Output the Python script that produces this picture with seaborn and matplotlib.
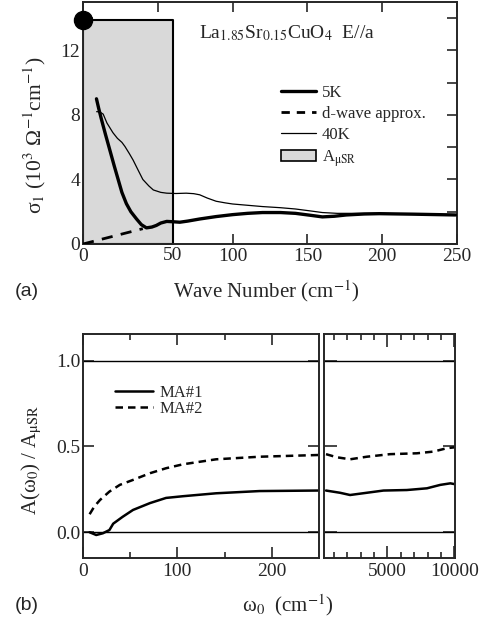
import numpy as np
import pandas as pd
import matplotlib
matplotlib.use("Agg")
import matplotlib.pyplot as plt
import matplotlib.transforms as mtrans
from matplotlib.lines import Line2D
from matplotlib.patches import Patch
import seaborn as sns

# ---------------- data (a) ----------------
wn_5k = [9, 10.5, 12.4, 15, 18, 21, 23.5, 26, 29, 32, 35.8, 39, 42.4, 46, 49, 52, 56, 60, 64.7, 70, 78, 89,
         100, 110, 120, 132, 142, 152, 160, 168, 176, 188, 198, 220, 249]
s1_5k = [9.0, 8.4, 7.7, 6.8, 5.8, 4.8, 4.0, 3.2, 2.5, 2.0, 1.55, 1.2, 1.0, 1.05, 1.15, 1.3, 1.4, 1.38, 1.35, 1.42, 1.55, 1.7,
         1.82, 1.9, 1.95, 1.95, 1.9, 1.78, 1.68, 1.72, 1.8, 1.86, 1.88, 1.85, 1.8]

wn_40k = [9.1, 11, 13.5, 16, 20, 23, 26, 28, 31, 33.5, 37, 40, 44, 47, 52, 56, 62, 69, 74, 78, 83, 89, 95,
          100, 110, 120, 132, 142, 152, 160, 170, 182, 198, 249]
s1_40k = [8.2, 8.2, 8.05, 7.5, 6.9, 6.55, 6.3, 6.05, 5.6, 5.2, 4.55, 4.0, 3.6, 3.35, 3.2, 3.15, 3.13, 3.15, 3.12, 3.05, 2.85, 2.65, 2.55,
          2.48, 2.4, 2.32, 2.25, 2.17, 2.05, 1.95, 1.9, 1.9, 1.9, 1.8]

wn_dwave = [0, 40]
s1_dwave = [0, 0.95]

box_x = [0, 60]          # A_muSR region
box_top = 13.9
dot_x, dot_y = [0], [13.9]

xticks_a = [0, 50, 100, 150, 200, 250]
xticklabels_a = ['0', '', '100', '150', '200', '250']
yticks_a = [0, 4, 8, 12]

# ---------------- data (b) ----------------
w_low1 = [7, 14, 21, 28, 32, 42, 53, 71, 88, 106, 141, 187, 249]
ma1_low = [0.0, -0.016, -0.006, 0.013, 0.05, 0.09, 0.13, 0.17, 0.2, 0.21, 0.227, 0.24, 0.243]
w_low2 = [7, 12, 18, 28, 39, 53, 71, 88, 106, 141, 187, 249]
ma2_low = [0.105, 0.15, 0.188, 0.237, 0.276, 0.305, 0.344, 0.373, 0.396, 0.425, 0.44, 0.45]

w_high1 = [400, 1450, 2200, 3450, 4700, 6450, 7950, 8950, 9700, 10050]
ma1_high = [0.243, 0.23, 0.217, 0.23, 0.243, 0.246, 0.256, 0.276, 0.285, 0.28]
w_high2 = [400, 1200, 2200, 3450, 5200, 7200, 8450, 9450, 10050]
ma2_high = [0.455, 0.437, 0.425, 0.44, 0.455, 0.46, 0.47, 0.49, 0.495]

# ---------------- style ----------------
sns.set_style("ticks")
plt.rcParams['font.family'] = ['Liberation Serif', 'DejaVu Serif']
plt.rcParams['mathtext.fontset'] = 'stix'
plt.rcParams['axes.linewidth'] = 1.4
plt.rcParams['xtick.direction'] = 'in'
plt.rcParams['ytick.direction'] = 'in'

TICK_FS = 14
fig = plt.figure(figsize=(4.85, 6.24), dpi=100)

# ================= panel (a) =================
ax = fig.add_axes([83/485, 1-244/624, 374/485, 242/624])
ax.fill_between(box_x, 0, box_top, color='#d9d9d9', edgecolor='black', linewidth=1.5, zorder=1)
sns.lineplot(x=wn_40k, y=s1_40k, ax=ax, color='black', linewidth=0.9, zorder=3)
sns.lineplot(x=wn_5k, y=s1_5k, ax=ax, color='black', linewidth=2.4, zorder=4)
sns.lineplot(x=wn_dwave, y=s1_dwave, ax=ax, color='black', linewidth=2.0, linestyle=(0, (4, 3)), zorder=4)
ax.plot(dot_x, dot_y, 'o', color='black', markersize=13, clip_on=False, zorder=6)

ax.set_xlim(0, 250)
ax.set_ylim(0, 15)
ax.set_xticks(xticks_a, labels=xticklabels_a)
ax.set_yticks(yticks_a)
ax.set_yticks([2, 6, 10, 14], minor=True)
ax.tick_params(which='both', top=True, right=True, length=7, width=1.2, labelsize=TICK_FS, pad=3)
ax.tick_params(axis='y', pad=2)
trans = mtrans.blended_transform_factory(ax.transData, ax.transAxes)
ax.text(box_x[1], -0.013, '50', transform=trans, ha='center', va='top', fontsize=TICK_FS)
ax.set_xlabel('')
ax.set_ylabel('')

fig.text(199/485, 1-33/624, r'La$_{1.85}$Sr$_{0.15}$CuO$_4$  E//a', fontsize=14, va='center', ha='left')

handles = [Line2D([], [], color='black', linewidth=2.4),
           Line2D([], [], color='black', linewidth=2.0, linestyle=(0, (3, 2.5))),
           Line2D([], [], color='black', linewidth=0.9),
           Patch(facecolor='#d9d9d9', edgecolor='black', linewidth=1.2)]
labels = ['5K', 'd-wave approx.', '40K', r'A$_{\mathrm{\mu SR}}$']
ax.legend(handles, labels, loc='upper left', bbox_to_anchor=(281/485, 1-85/624),
          bbox_transform=fig.transFigure, frameon=False, fontsize=12,
          handlelength=2.1, handletextpad=0.35, labelspacing=0.3, borderpad=0, borderaxespad=0)

fig.text(35/485, 1-135/624, 'σ$_1$ (10$^3$ Ω$^{-1}$cm$^{-1}$)', rotation=90,
         ha='center', va='center', fontsize=15.5)
fig.text(266/485, 1-291/624, r'Wave Number (cm$^{-1}$)', ha='center', va='center', fontsize=15)
fig.text(15/485, 1-291/624, '(a)', ha='left', va='center', fontsize=14, family='Liberation Sans')

# ================= panel (b) =================
yb_lo, yb_hi = -0.15, 1.155
axl = fig.add_axes([83/485, 1-558/624, 236/485, 224/624])
axr = fig.add_axes([324/485, 1-558/624, 131/485, 224/624])

for a in (axl, axr):
    a.axhline(0, color='black', linewidth=1.0, zorder=1)
    a.axhline(1, color='black', linewidth=1.0, zorder=1)
    a.set_ylim(yb_lo, yb_hi)

sns.lineplot(x=w_low1, y=ma1_low, ax=axl, color='black', linewidth=1.8, label='MA#1')
sns.lineplot(x=w_low2, y=ma2_low, ax=axl, color='black', linewidth=1.8, linestyle=(0, (3, 2)), label='MA#2')
sns.lineplot(x=w_high1, y=ma1_high, ax=axr, color='black', linewidth=1.8)
sns.lineplot(x=w_high2, y=ma2_high, ax=axr, color='black', linewidth=1.8, linestyle=(0, (3, 2)))

axl.set_xlim(0, 250)
axl.set_xticks([0, 100, 200])
axl.set_xticks([50, 150], minor=True)
axl.set_yticks([0, 0.5, 1.0], labels=['0.0', '0.5', '1.0'])
axl.tick_params(which='both', top=True, right=True, width=1.2, labelsize=TICK_FS)
axl.tick_params(which='major', length=8)
axl.tick_params(which='minor', length=4)
axl.tick_params(axis='y', pad=2)
axl.set_xlabel('')
axl.set_ylabel('')
axl.legend(loc='upper left', bbox_to_anchor=(115/485, 1-385/624), bbox_transform=fig.transFigure,
           frameon=False, fontsize=12, handlelength=2.3, handletextpad=0.35, labelspacing=0.0,
           borderpad=0, borderaxespad=0)

axr.set_xlim(250, 10050)
axr.set_xticks([5000, 10000])
axr.set_xticks([1000, 2000, 3000, 4000, 6000, 7000, 8000, 9000], minor=True)
axr.set_yticks([0, 0.5, 1.0], labels=[])
axr.tick_params(which='both', top=True, right=True, left=True, width=1.2, labelsize=TICK_FS, labelleft=False)
axr.tick_params(which='major', length=9)
axr.tick_params(which='minor', length=4)
axr.set_xlabel('')
axr.set_ylabel('')

fig.text(32/485, 1-460/624, 'A(ω$_0$) / A$_{\\mathrm{\\mu SR}}$', rotation=90,
         ha='center', va='center', fontsize=15)
fig.text(288/485, 1-605/624, 'ω$_0$  (cm$^{-1}$)', ha='center', va='center', fontsize=15)
fig.text(15/485, 1-605/624, '(b)', ha='left', va='center', fontsize=14, family='Liberation Sans')

fig.savefig('out.png', dpi=100)
